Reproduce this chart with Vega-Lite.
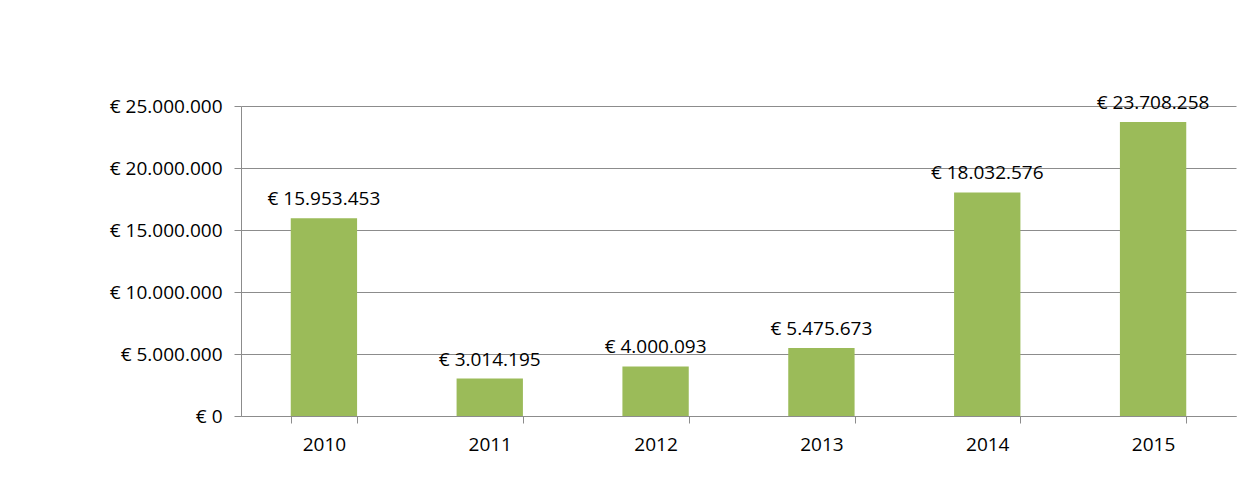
{
  "$schema": "https://vega.github.io/schema/vega-lite/v6.json",
  "width": 995,
  "height": 310,
  "autosize": {"type": "none"},
  "padding": {"left": 241, "top": 106, "right": 24, "bottom": 74},
  "background": "white",
  "config": {
    "locale": {"number": {"decimal": ",", "thousands": ".", "grouping": [3], "currency": ["€ ", ""]}},
    "view": {"stroke": null},
    "font": "Open Sans",
    "axis": {"labelFont": "Open Sans", "labelFontSize": 19, "labelColor": "#000000", "domainColor": "#8c8c8c", "tickColor": "#8c8c8c", "gridColor": "#8c8c8c", "gridWidth": 1}
  },
  "data": {"values": [
    {"year": "2010", "value": 15953453},
    {"year": "2011", "value": 3014195},
    {"year": "2012", "value": 4000093},
    {"year": "2013", "value": 5475673},
    {"year": "2014", "value": 18032576},
    {"year": "2015", "value": 23708258}
  ]},
  "encoding": {
    "x": {"field": "year", "type": "nominal", "title": null,
      "scale": {"paddingInner": 0.6, "paddingOuter": 0.3},
      "axis": {"labelAngle": 0, "tickBand": "extent", "tickSize": 7, "labelPadding": 12, "grid": false}},
    "y": {"field": "value", "type": "quantitative", "title": null,
      "scale": {"domain": [0, 25000000], "nice": false},
      "axis": {"values": [0, 5000000, 10000000, 15000000, 20000000, 25000000], "format": "$,.0f", "tickSize": 7, "labelPadding": 12, "grid": true}}
  },
  "layer": [
    {"mark": {"type": "bar", "color": "#9BBB59"}},
    {"mark": {"type": "text", "baseline": "bottom", "dy": -9, "fontSize": 19, "font": "Open Sans", "color": "#000000"},
     "encoding": {"text": {"field": "value", "type": "quantitative", "format": "$,.0f"}}}
  ]
}
